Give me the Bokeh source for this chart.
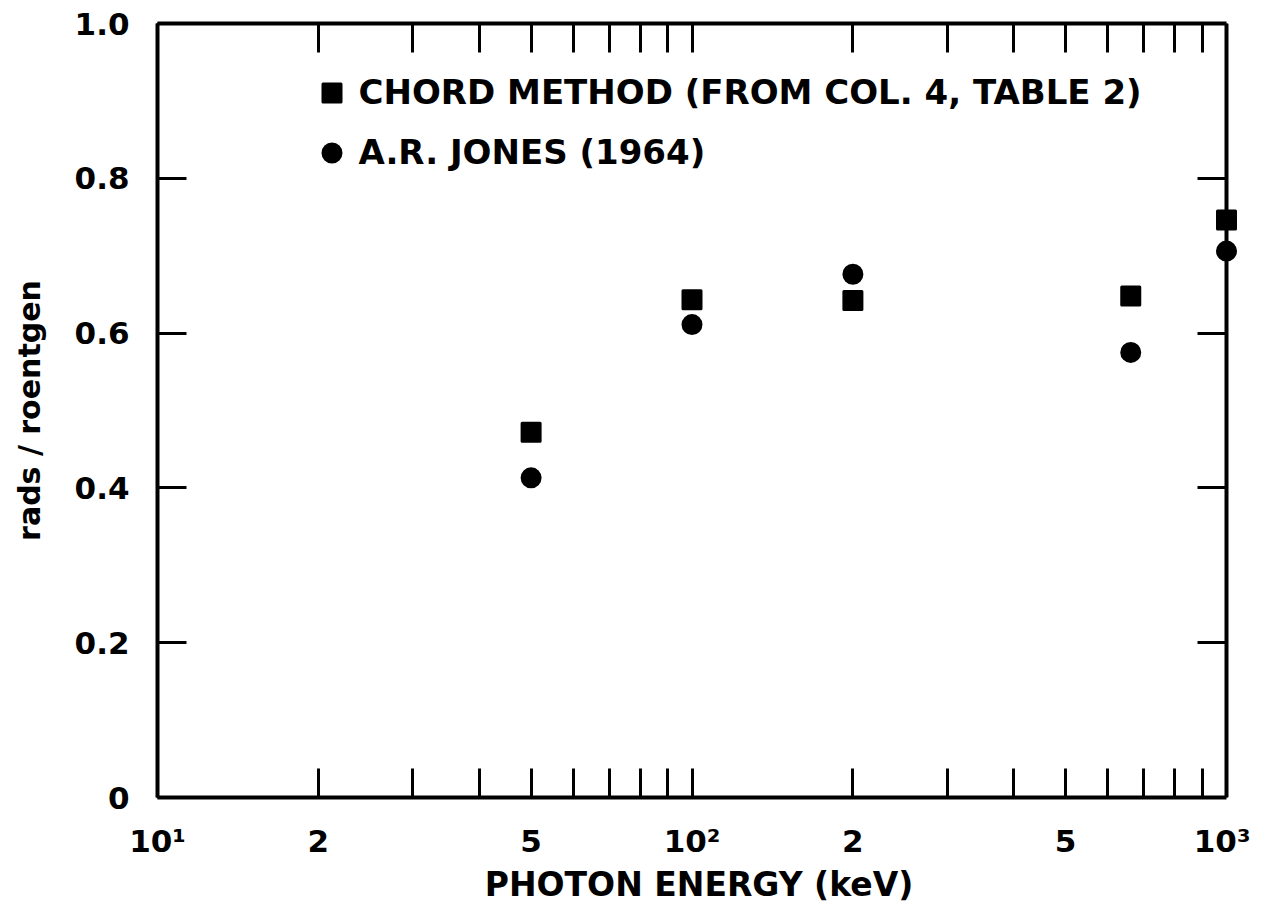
from bokeh.plotting import figure
from bokeh.models import (Range1d, FixedTicker, LogAxis, LinearAxis,
                          Legend, LegendItem)
from bokeh.embed import file_html
from bokeh.resources import INLINE

# ---- data ----
energy_kev = [50, 100, 200, 662, 1000]
chord_method = [0.472, 0.643, 0.642, 0.648, 0.746]
jones_1964 = [0.413, 0.611, 0.676, 0.575, 0.706]

x_major_ticks = [10, 20, 50, 100, 200, 500, 1000]
x_tick_labels = ["10\u00b9", "2", "5", "10\u00b2", "2", "5", "10\u00b3"]
x_minor_ticks = [30, 40, 60, 70, 80, 90, 300, 400, 600, 700, 800, 900]
y_ticks = [0, 0.2, 0.4, 0.6, 0.8, 1.0]
y_tick_labels = ["0", "0.2", "0.4", "0.6", "0.8", "1.0"]
y_inner_ticks = [0.2, 0.4, 0.6, 0.8]

series_names = ["CHORD METHOD (FROM COL. 4, TABLE 2)", "A.R. JONES (1964)"]
x_title = "PHOTON ENERGY (keV)"
y_title = "rads / roentgen"

FONT = "DejaVu Sans"

# ---- layout geometry (pixels) ----
W, H = 1250, 910
decade_px = 534.5
unit_px = 774
pad_r = 14
box_left, box_top = 157, 23

x0, x1 = x_major_ticks[0], x_major_ticks[-1]
y0, y1 = y_ticks[0], y_ticks[-1]
x_range = Range1d(x0, x1 * 10 ** (pad_r / decade_px))
y_range = Range1d(y0, y1)

frame_w = 2 * decade_px + pad_r

p = figure(width=W, height=H, x_axis_type="log", x_range=x_range, y_range=y_range,
           output_backend="svg", toolbar_location=None,
           min_border_left=box_left,
           min_border_right=int(round(W - box_left - frame_w)),
           min_border_top=box_top,
           min_border_bottom=H - box_top - unit_px)
p.outline_line_color = None
p.xgrid.visible = False
p.ygrid.visible = False
p.background_fill_color = "white"
p.border_fill_color = "white"

xticker = FixedTicker(ticks=x_major_ticks, minor_ticks=x_minor_ticks)
TICK = 29


def style_axis(ax):
    ax.axis_line_color = "black"
    ax.axis_line_width = 4
    ax.major_tick_in = TICK
    ax.major_tick_out = 0
    ax.minor_tick_in = TICK
    ax.minor_tick_out = 0
    ax.major_tick_line_width = 3
    ax.minor_tick_line_width = 3
    ax.major_tick_line_color = "black"
    ax.minor_tick_line_color = "black"
    ax.major_label_text_font = FONT
    ax.major_label_text_font_style = "bold"
    ax.major_label_text_color = "black"
    ax.axis_label_text_font = FONT
    ax.axis_label_text_font_style = "bold"
    ax.axis_label_text_color = "black"


# bottom axis
xa = p.xaxis[0]
xa.ticker = xticker
xa.bounds = (x0, x1)
xa.major_label_overrides = dict(zip(x_major_ticks, x_tick_labels))
style_axis(xa)
xa.major_label_text_font_size = "31px"
xa.major_label_standoff = 25
xa.axis_label = x_title
xa.axis_label_text_font_size = "33px"
xa.axis_label_standoff = 3

# left axis
ya = p.yaxis[0]
ya.ticker = FixedTicker(ticks=y_ticks)
ya.major_label_overrides = dict(zip(y_ticks, y_tick_labels))
style_axis(ya)
ya.major_label_text_font_size = "31px"
ya.major_label_standoff = 28
ya.axis_label = y_title
ya.axis_label_text_font_size = "30px"
ya.axis_label_standoff = 25

# top axis (ticks only)
ta = LogAxis(ticker=xticker, bounds=(x0, x1))
style_axis(ta)
ta.major_label_overrides = {t: "" for t in x_major_ticks}
ta.major_label_text_font_size = "1px"
ta.major_label_standoff = 0
p.add_layout(ta, "above")

# right axis (ticks only), drawn at x = 10^3
ra = LinearAxis(ticker=FixedTicker(ticks=y_inner_ticks), fixed_location=x1)
style_axis(ra)
ra.major_label_overrides = {t: "" for t in y_inner_ticks}
ra.major_label_text_font_size = "1px"
ra.major_label_standoff = 0
p.add_layout(ra, "right")

# data
r_sq = p.scatter(energy_kev, chord_method, marker="square", size=18,
                 fill_color="black", line_color="black", line_width=3, line_join="round")
r_ci = p.scatter(energy_kev, jones_1964, marker="circle", size=18,
                 fill_color="black", line_color="black", line_width=3)

legend = Legend(items=[LegendItem(label=series_names[0], renderers=[r_sq]),
                       LegendItem(label=series_names[1], renderers=[r_ci])],
                location=(151.5, 622.5), glyph_width=45, glyph_height=45, spacing=15,
                label_standoff=5, padding=0, margin=0,
                border_line_color=None, background_fill_alpha=0,
                label_text_font=FONT, label_text_font_style="bold",
                label_text_font_size="34px", label_text_color="black")
p.add_layout(legend)

open("out.html", "w").write(file_html(p, INLINE))
